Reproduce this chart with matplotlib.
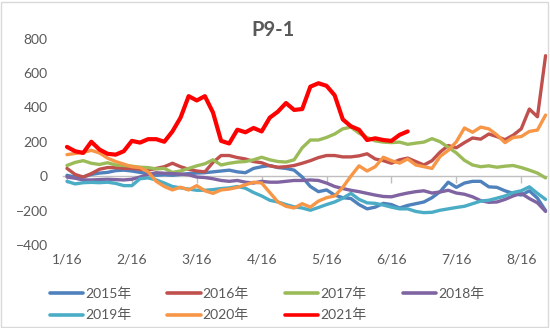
import matplotlib
matplotlib.use("Agg")
import matplotlib.pyplot as plt
from matplotlib.patches import Rectangle
import numpy as np

plt.rcParams['font.family'] = ['Lato', 'Noto Sans CJK SC', 'DejaVu Sans']

# Sampled on a common grid: 8 samples per month, starting 1/16
tick_labels = ["1/16", "2/16", "3/16", "4/16", "5/16", "6/16", "7/16", "8/16"]
samples_per_month = 8

y2015 = [5, -5, -5, 10, 18, 22, 32, 35, 30, 22, 15, 5, 8, 5, 10, 15, 18, 20, 25, 30,
         35, 25, 20, 45, 55, 62, 50, 45, 35, -5, -60, -90, -80, -110, -125, -130, -165, -190, -180, -158,
         -165, -185, -170, -160, -150, -125, -90, -35, -65, -40, -30, -30, -62, -65, -85, -100, -110, -85, -128, -200]
y2016 = [45, 10, -5, 15, 40, 50, 50, 45, 45, 40, 35, 45, 55, 75, 55, 40, 30, 25, 80, 120,
         120, 108, 100, 85, 78, 60, 52, 55, 62, 75, 90, 108, 120, 120, 112, 112, 118, 130, 100, 90,
         75, 95, 105, 85, 65, 90, 140, 178, 165, 195, 222, 215, 245, 230, 212, 238, 275, 390, 345, 700]
y2017 = [62, 80, 90, 75, 68, 78, 65, 62, 58, 52, 50, 42, 45, 22, 30, 45, 60, 72, 95, 65,
         75, 82, 85, 95, 110, 95, 85, 82, 95, 165, 210, 210, 225, 245, 275, 285, 250, 225, 205, 198,
         195, 198, 185, 192, 198, 218, 200, 168, 135, 92, 65, 55, 60, 52, 58, 62, 50, 35, 18, -10]
y2018 = [-5, -12, -22, -22, -20, -18, -20, -22, -18, -5, 10, 20, 17, 15, 12, 8, -5, -8, -15, -25,
         -30, -25, -35, -40, -30, -35, -35, -30, -25, -25, -22, -25, -40, -60, -72, -82, -90, -100, -110, -118,
         -120, -108, -98, -90, -85, -98, -92, -82, -98, -105, -120, -142, -152, -150, -135, -115, -100, -130, -155, -205]
y2019 = [-30, -45, -38, -36, -38, -35, -42, -55, -55, -15, -10, -22, -40, -60, -68, -75, -82, -82, -78, -72,
         -68, -60, -70, -95, -115, -140, -150, -165, -178, -185, -198, -182, -165, -150, -128, -100, -135, -155, -158, -168,
         -180, -190, -190, -205, -212, -210, -198, -190, -182, -175, -160, -145, -140, -128, -115, -95, -85, -62, -100, -135]
y2020 = [125, 132, 138, 150, 135, 105, 85, 70, 55, 50, 25, -30, -60, -80, -64, -80, -55, -85, -100, -80,
         -75, -65, -50, -35, -40, -95, -150, -175, -185, -160, -180, -145, -125, -115, -65, 0, 60, 30, 55, 110,
         90, 76, 100, 65, 55, 45, 115, 150, 200, 280, 255, 285, 275, 240, 195, 225, 230, 260, 268, 355]
y2021 = [170, 145, 135, 200, 155, 130, 125, 145, 205, 195, 215, 215, 200, 260, 340, 465, 440, 465, 370, 205,
         190, 270, 255, 280, 260, 340, 375, 425, 385, 390, 520, 540, 525, 470, 330, 290, 270, 210, 220, 210,
         205, 240, 260]

series = [
    ("2015年", y2015, "#4F81BD", 2.4),
    ("2016年", y2016, "#C0504D", 2.4),
    ("2017年", y2017, "#9BBB59", 2.4),
    ("2018年", y2018, "#8064A2", 2.4),
    ("2019年", y2019, "#4BACC6", 2.4),
    ("2020年", y2020, "#F79646", 2.4),
    ("2021年", y2021, "#FF0000", 3.0),
]

fig = plt.figure(figsize=(5.5, 3.28), dpi=100)
ax = fig.add_axes([63 / 550, 1 - 245 / 328, 485 / 550, 206.5 / 328])

handles = {}
for name, vals, color, lw in series:
    x = np.arange(len(vals))
    (ln,) = ax.plot(x, vals, color=color, lw=lw, solid_joinstyle="round",
                    solid_capstyle="round", label=name)
    handles[name] = ln

ax.set_ylim(-400, 800)
ax.set_yticks(np.arange(-400, 801, 200))
ax.set_xlim(-0.49, 59.3)

text_color = "#595959"
ax.tick_params(axis="y", length=0, labelsize=10, labelcolor=text_color, pad=11)

# category axis crosses at zero; labels sit at the bottom of the plot
for s in ["top", "right", "left"]:
    ax.spines[s].set_visible(False)
ax.spines["bottom"].set_position(("data", 0))
ax.spines["bottom"].set_color("#BFBFBF")
ax.spines["bottom"].set_linewidth(1.0)
ax.spines["bottom"].set_zorder(0)
tick_pos = np.arange(len(tick_labels)) * samples_per_month
ax.set_xticks(tick_pos)
ax.set_xticklabels([])
ax.tick_params(axis="x", direction="out", length=5, color="#BFBFBF", width=1.0)

sec = ax.secondary_xaxis(0.0)
sec.set_xticks(tick_pos)
sec.set_xticklabels(tick_labels)
sec.tick_params(length=0, labelsize=10, labelcolor=text_color, pad=6)
sec.spines["bottom"].set_visible(False)

fig.text(273 / 550, 1 - 30 / 328, "P9-1", ha="center", va="center",
         fontsize=14.5, fontweight="bold", color=text_color)

order = ["2015年", "2019年", "2016年", "2020年", "2017年", "2021年", "2018年"]
leg = fig.legend([handles[n] for n in order], order, ncol=4, loc="center left",
                 bbox_to_anchor=(44 / 550, 1 - 304.5 / 328), frameon=False,
                 fontsize=10, handlelength=2.4, handletextpad=0.15,
                 columnspacing=2.6, labelspacing=0.6, borderaxespad=0)
for t in leg.get_texts():
    t.set_color(text_color)
for h in leg.legend_handles:
    h.set_linewidth(2.6)

fig.patches.append(Rectangle((1 / 550, 1 / 328), 547 / 550, 325 / 328,
                             transform=fig.transFigure, fill=False,
                             edgecolor="#D9D9D9", lw=1.0))

fig.savefig("out.png", dpi=100)
